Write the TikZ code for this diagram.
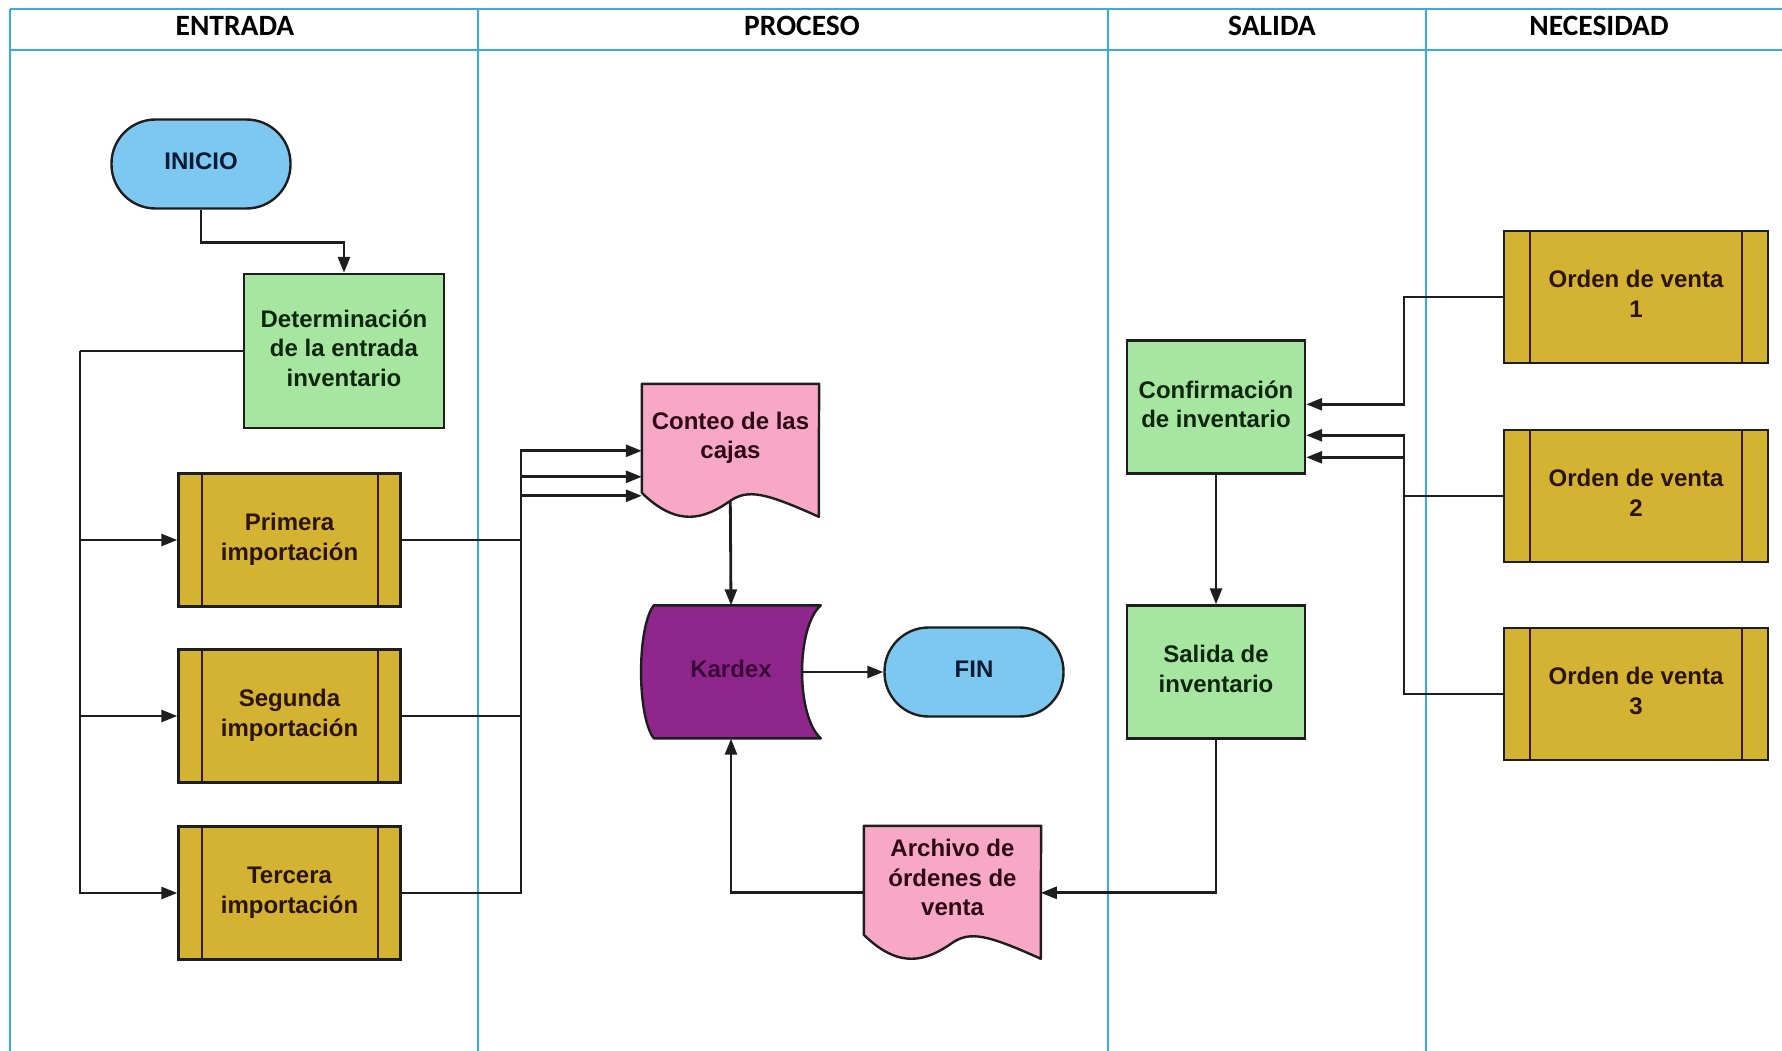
\documentclass[tikz,border=0pt]{standalone}
\usepackage{fontspec}
\setmainfont{Liberation Sans}
\newfontfamily\lanefont{Carlito}
\usetikzlibrary{arrows.meta,calc,backgrounds}

\definecolor{laneblue}{HTML}{35AEDF}
\definecolor{skyfill}{HTML}{7DC8F0}
\definecolor{skytext}{HTML}{0C1B33}
\definecolor{greenfill}{HTML}{A6E6A0}
\definecolor{greentext}{HTML}{0F260F}
\definecolor{goldfill}{HTML}{D4B232}
\definecolor{goldline}{HTML}{3A1A0E}
\definecolor{goldtext}{HTML}{2A1507}
\definecolor{pinkfill}{HTML}{F7A8C4}
\definecolor{pinktext}{HTML}{2E0A16}
\definecolor{plumfill}{HTML}{8E268C}
\definecolor{plumtext}{HTML}{3A0838}
\definecolor{edge}{HTML}{1E1E1E}

% document symbol: flat top, wavy bottom; node covers the upper part
\newcommand\docshape[1]{%
  \path[draw=edge, line width=2.4pt, fill=pinkfill, line join=round]
    (#1.north west) -- ($(#1.north west)+(0,67)$) coordinate (#1-l)
    -- ($(#1.north west)+(0,109)$)
    .. controls ($(#1.north west)+(35.4,143.6)$) and ($(#1.north west)+(62,135.7)$)
    .. ($(#1.north west)+(88.5,117)$) coordinate (#1-b)
    .. controls ($(#1.north west)+(106.2,105)$) and ($(#1.north west)+(123.9,109)$)
    .. ($(#1.north west)+(177,133)$)
    -- ($(#1.north west)+(177,67)$) coordinate (#1-r)
    -- (#1.north east) -- cycle;}

% stored-data symbol: convex left side, concave right side
\newcommand\storeshape[1]{%
  \path[draw=edge, line width=2.4pt, fill=plumfill, line join=round]
    ($(#1.north west)+(13,0)$) -- ($(#1.north west)+(180,0)$)
    .. controls ($(#1.north west)+(155,22)$) and ($(#1.north west)+(155,111)$)
    .. ($(#1.north west)+(180,133)$)
    -- ($(#1.north west)+(13,133)$)
    .. controls ($(#1.north west)+(-4,111)$) and ($(#1.north west)+(-4,22)$)
    .. ($(#1.north west)+(13,0)$) -- cycle;}

\begin{document}
\begin{tikzpicture}[x=1pt,y=-1pt,
  lane/.style={draw=laneblue, line width=2pt},
  lanehead/.style={font=\lanefont\bfseries\fontsize{29.5}{30}\selectfont, text=black, inner sep=0pt},
  label text/.style={align=center, inner sep=0pt, text depth=6pt,
    font=\bfseries\fontsize{24}{29.5}\selectfont},
  box/.style={label text, draw=edge, line width=2.4pt},
  terminal/.style={box, fill=skyfill, text=skytext, rounded corners=44pt,
    minimum width=179pt, minimum height=89pt},
  task/.style={box, fill=greenfill, text=greentext, minimum width=178pt, minimum height=133pt},
  subproc/.style={box, fill=goldfill, text=goldtext, minimum height=133pt,
    path picture={\draw[goldline, line width=2pt]
      ([xshift=#1]path picture bounding box.north west) -- ([xshift=#1]path picture bounding box.south west)
      ([xshift=-#1]path picture bounding box.north east) -- ([xshift=-#1]path picture bounding box.south east);}},
  subproc/.default=23pt,
  doc/.style={label text, text=pinktext, minimum width=177pt, minimum height=109pt},
  store/.style={label text, text=plumtext, minimum width=180pt, minimum height=133pt},
  arr/.style={draw=edge, line width=2.8pt, -{Triangle[length=16pt,width=12pt]}},
  link/.style={draw=edge, line width=2.8pt}
]
\useasboundingbox (0,0) rectangle (1782,1051);

% swimlanes
\draw[lane] (10,9) -- (1782,9);
\draw[lane] (10,50) -- (1782,50);
\draw[lane] (10,9) -- (10,1051);
\draw[lane] (478,9) -- (478,1051);
\draw[lane] (1108,9) -- (1108,1051);
\draw[lane] (1426,9) -- (1426,1051);

\node[lanehead] (hIn)   at (235,26)  {ENTRADA};
\node[lanehead] (hProc) at (802,26)  {PROCESO};
\node[lanehead] (hOut)  at (1272,26) {SALIDA};
\node[lanehead] (hNeed) at (1599,26) {NECESIDAD};

% ENTRADA
\node[terminal] (inicio) at (201,164) {INICIO};
\node[task, minimum width=200pt, minimum height=154pt] (det) at (344,351)
  {Determinación\\de la entrada\\inventario};
\node[subproc, minimum width=222pt] (prim) at (289.5,540) {Primera\\importación};
\node[subproc, minimum width=222pt] (seg)  at (289.5,716) {Segunda\\importación};
\node[subproc, minimum width=222pt] (terc) at (289.5,893) {Tercera\\importación};

% PROCESO
\node[doc] (conteo) at (730.5,438.5) {Conteo de las\\cajas};
\node[store] (kardex) at (731,672) {Kardex};
\node[terminal] (fin) at (974,672) {FIN};
\node[doc] (archivo) at (952.5,880.5) {Archivo de\\órdenes de\\venta};

% SALIDA
\node[task] (conf) at (1216,407) {Confirmación\\de inventario};
\node[task] (sal)  at (1216,672) {Salida de\\inventario};

% NECESIDAD
\node[subproc=26pt, minimum width=264pt, minimum height=132pt] (ord1) at (1636,297) {Orden de venta\\1};
\node[subproc=26pt, minimum width=264pt, minimum height=132pt] (ord2) at (1636,496) {Orden de venta\\2};
\node[subproc=26pt, minimum width=264pt, minimum height=132pt] (ord3) at (1636,694) {Orden de venta\\3};

\begin{scope}[on background layer]
  \fill[white] (0,0) rectangle (1782,1051);
  \docshape{conteo}
  \docshape{archivo}
  \storeshape{kardex}
\end{scope}
\coordinate (kardex-r) at ($(kardex.east)+(-19,0)$);

% connectors
\coordinate (tk) at (80,351);
\coordinate (lbus) at (521,0);
\coordinate (rbus) at (1404,0);

\draw[arr] (inicio.south) -- ++(0,33) -| (det.north);
\draw[link] (det.west) -- (tk);
\draw[arr] (tk) |- (prim.west);
\draw[arr] (tk) |- (seg.west);
\draw[arr] (tk) |- (terc.west);

\draw[arr] (prim.east) -- (prim.east -| lbus) |- ($(conteo.north west)+(0,112)$);
\draw[arr] (seg.east)  -- (seg.east -| lbus)  |- ($(conteo.north west)+(0,93)$);
\draw[arr] (terc.east) -- (terc.east -| lbus) |- ($(conteo.north west)+(0,67)$);

\draw[arr] (conteo-b) -- (kardex.north);
\draw[arr] (kardex-r) -- (fin.west);
\draw[arr] (archivo-l) -| (kardex.south);

\draw[arr] (conf.south) -- (sal.north);
\draw[arr] (sal.south) |- (archivo-r);

\draw[arr] (ord1.west) -- (ord1.west -| rbus) |- ($(conf.north east)+(0,65)$);
\draw[arr] (ord2.west) -- (ord2.west -| rbus) |- ($(conf.north east)+(0,118)$);
\draw[arr] (ord3.west) -- (ord3.west -| rbus) |- ($(conf.north east)+(0,96)$);
\end{tikzpicture}
\end{document}
